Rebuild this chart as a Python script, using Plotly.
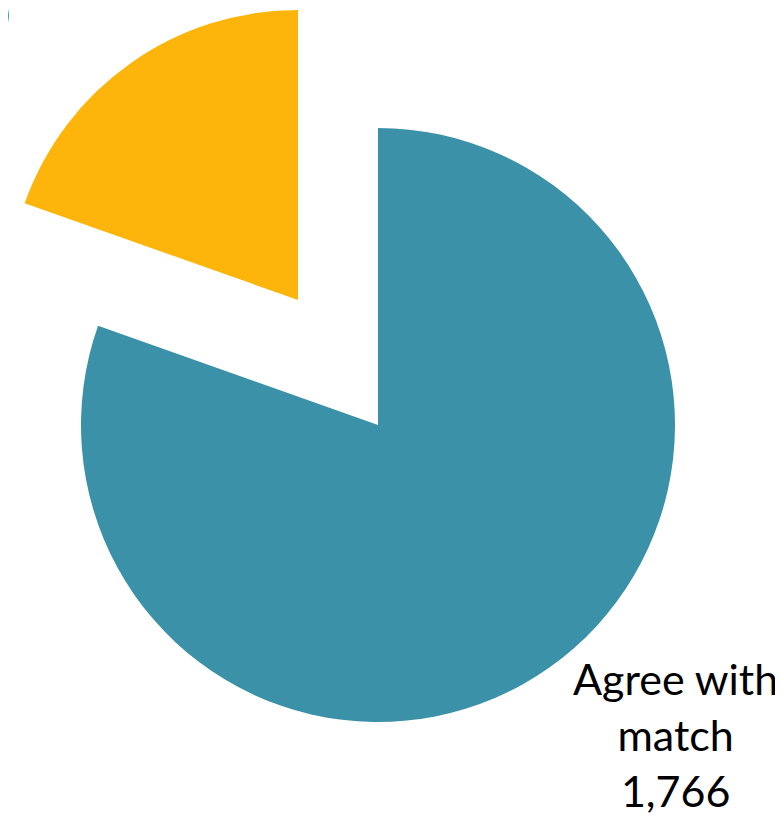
import plotly.graph_objects as go

labels = ["Agree with match", "Disagree with match"]
values = [1766, 430]
colors = ["#3A91A8", "#FDB50B"]
clear = "rgba(0,0,0,0)"

W, H = 783, 815
# centres in figure pixels (page adds an 8px body margin)
teal_c, teal_r = (370, 417), 297
yel_c, yel_r = (290, 292), 290


def dom(c, r):
    cx, cy = c
    return dict(x=[max(0, (cx - r) / W), (cx + r) / W],
                y=[(H - cy - r) / H, (H - cy + r) / H])


fig = go.Figure()
fig.add_trace(go.Pie(
    labels=labels, values=values, sort=False, direction="clockwise",
    rotation=0, marker=dict(colors=[clear, colors[1]], line=dict(width=0)),
    textinfo="none", hoverinfo="label+value", domain=dom(yel_c, yel_r)))
fig.add_trace(go.Pie(
    labels=labels, values=values, sort=False, direction="clockwise",
    rotation=0, marker=dict(colors=[colors[0], clear], line=dict(width=0)),
    textinfo="none", hoverinfo="label+value", domain=dom(teal_c, teal_r)))

font = dict(family="Lato, 'Open Sans', sans-serif", size=43, color="#000000")
fig.add_annotation(
    text="Agree with<br>match<br>{:,}".format(values[0]),
    xref="paper", yref="paper", x=667 / W, y=(H - 726) / H,
    xanchor="center", yanchor="middle", showarrow=False, font=font)
fig.add_annotation(
    text="Disagree with<br>match<br>{:,}".format(values[1]),
    xref="paper", yref="paper", x=-36 / W, y=(H - 34) / H,
    xanchor="center", yanchor="bottom", showarrow=False, font=font)

fig.update_layout(width=W, height=H, margin=dict(l=0, r=0, t=0, b=0),
                  showlegend=False, paper_bgcolor="white", plot_bgcolor="white")
fig.write_html("out.html")
